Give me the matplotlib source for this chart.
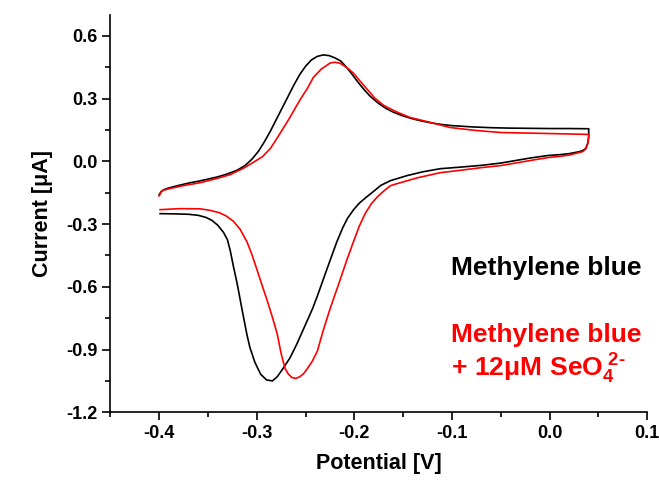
import matplotlib
matplotlib.use("Agg")
import matplotlib.pyplot as plt
from matplotlib.ticker import MultipleLocator, FormatStrFormatter

plt.rcParams['font.family'] = ['Liberation Sans', 'DejaVu Sans']
plt.rcParams['font.weight'] = 'bold'
plt.rcParams['mathtext.fontset'] = 'custom'
plt.rcParams['mathtext.rm'] = 'Liberation Sans:bold'
plt.rcParams['mathtext.bf'] = 'Liberation Sans:bold'
plt.rcParams['mathtext.it'] = 'Liberation Sans:bold'

# Methylene blue (black) CV loop: forward scan then reverse scan
mb_x = [-0.400, -0.398, -0.395, -0.390, -0.380, -0.370, -0.360, -0.350, -0.340, -0.330,
        -0.320, -0.312, -0.305, -0.298, -0.292, -0.286, -0.280, -0.274, -0.268, -0.262,
        -0.256, -0.250, -0.244, -0.238, -0.232, -0.226, -0.220, -0.214, -0.208, -0.202,
        -0.196, -0.190, -0.184, -0.176, -0.168, -0.160, -0.150, -0.140, -0.130, -0.120,
        -0.110, -0.100, -0.080, -0.060, -0.040, -0.020, 0.000, 0.020, 0.040,
        0.040, 0.039, 0.037, 0.034, 0.030, 0.020, 0.010, -0.002, -0.020, -0.050,
        -0.070, -0.090, -0.112, -0.130, -0.146, -0.163, -0.173, -0.181, -0.188, -0.195,
        -0.201, -0.207, -0.212, -0.218, -0.225, -0.232, -0.238, -0.243, -0.251, -0.259,
        -0.266, -0.273, -0.279, -0.284, -0.290, -0.296, -0.302, -0.307, -0.310, -0.315,
        -0.320, -0.324, -0.327, -0.330, -0.334, -0.340, -0.346, -0.352, -0.360, -0.370,
        -0.385, -0.399]
mb_y = [-0.160, -0.145, -0.135, -0.127, -0.115, -0.104, -0.095, -0.085, -0.074, -0.060,
        -0.042, -0.020, 0.010, 0.050, 0.095, 0.145, 0.200, 0.255, 0.310, 0.365,
        0.415, 0.455, 0.485, 0.502, 0.509, 0.506, 0.495, 0.480, 0.450, 0.414,
        0.377, 0.343, 0.312, 0.280, 0.254, 0.235, 0.217, 0.203, 0.192, 0.183,
        0.176, 0.171, 0.165, 0.161, 0.159, 0.158, 0.157, 0.157, 0.156,
        0.120, 0.086, 0.062, 0.052, 0.046, 0.037, 0.032, 0.028, 0.016, -0.008,
        -0.019, -0.027, -0.035, -0.050, -0.068, -0.092, -0.115, -0.146, -0.172, -0.200,
        -0.232, -0.272, -0.318, -0.385, -0.475, -0.566, -0.645, -0.706, -0.790, -0.874,
        -0.940, -0.990, -1.030, -1.050, -1.045, -1.018, -0.960, -0.890, -0.830, -0.710,
        -0.586, -0.500, -0.430, -0.375, -0.340, -0.305, -0.282, -0.268, -0.258, -0.253,
        -0.251, -0.250]

# Methylene blue + 12 uM SeO4 2- (red) CV loop
se_x = [-0.400, -0.397, -0.389, -0.375, -0.358, -0.341, -0.327, -0.314, -0.304, -0.294,
        -0.286, -0.280, -0.274, -0.268, -0.262, -0.256, -0.248, -0.242, -0.234, -0.225,
        -0.220, -0.215, -0.207, -0.201, -0.194, -0.186, -0.179, -0.170, -0.158, -0.143,
        -0.122, -0.102, -0.076, -0.050, -0.009, 0.040,
        0.040, 0.039, 0.037, 0.034, 0.020, 0.010, -0.002, -0.020, -0.050, -0.070,
        -0.094, -0.112, -0.135, -0.150, -0.163, -0.170, -0.177, -0.183, -0.189, -0.195,
        -0.201, -0.208, -0.215, -0.225, -0.232, -0.238, -0.243, -0.248, -0.252, -0.256,
        -0.260, -0.264, -0.268, -0.271, -0.275, -0.279, -0.284, -0.289, -0.294, -0.300,
        -0.305, -0.310, -0.317, -0.324, -0.331, -0.338, -0.348, -0.358, -0.379, -0.399]
se_y = [-0.165, -0.140, -0.130, -0.116, -0.102, -0.082, -0.063, -0.034, -0.006, 0.023,
        0.062, 0.105, 0.150, 0.195, 0.243, 0.292, 0.350, 0.402, 0.441, 0.470,
        0.474, 0.470, 0.446, 0.422, 0.383, 0.340, 0.302, 0.268, 0.239, 0.210,
        0.186, 0.162, 0.148, 0.138, 0.134, 0.129,
        0.110, 0.086, 0.060, 0.047, 0.030, 0.024, 0.018, 0.004, -0.020, -0.030,
        -0.044, -0.054, -0.078, -0.098, -0.116, -0.142, -0.172, -0.205, -0.250, -0.310,
        -0.385, -0.475, -0.572, -0.706, -0.810, -0.908, -0.955, -0.990, -1.015, -1.030,
        -1.038, -1.034, -1.015, -0.990, -0.920, -0.826, -0.745, -0.670, -0.600, -0.515,
        -0.445, -0.385, -0.325, -0.286, -0.262, -0.246, -0.234, -0.227, -0.226, -0.231]

W, H = 659, 483
fig = plt.figure(figsize=(W / 100, H / 100), dpi=100)
ax = fig.add_axes([110.3 / W, 1 - 412.3 / H, (647.3 - 110.3) / W, (412.3 - 15) / H])

ax.plot(mb_x, mb_y, color='black', lw=1.2, solid_joinstyle='round')
ax.plot(se_x, se_y, color='#ff0000', lw=1.2, solid_joinstyle='round')

ax.set_xticks([-0.4, -0.3, -0.2, -0.1, 0.0, 0.1])
ax.xaxis.set_minor_locator(MultipleLocator(0.05))
ax.yaxis.set_major_locator(MultipleLocator(0.3))
ax.yaxis.set_minor_locator(MultipleLocator(0.15))
ax.xaxis.set_major_formatter(FormatStrFormatter('%.1f'))
ax.yaxis.set_major_formatter(FormatStrFormatter('%.1f'))
ax.set_xlim(-0.45, 0.1)
ax.set_ylim(-1.2, 0.7)

for s in ['top', 'right']:
    ax.spines[s].set_visible(False)
for s in ['left', 'bottom']:
    ax.spines[s].set_linewidth(1.2)
ax.tick_params(which='major', direction='out', length=6, width=1.2, labelsize=13, pad=3)
ax.tick_params(which='minor', direction='out', length=3.5, width=1.2)
for lab in ax.get_xticklabels() + ax.get_yticklabels():
    lab.set_fontweight('bold')

ax.set_xlabel('Potential [V]', fontsize=15.5, fontweight='bold', labelpad=8)
ax.set_ylabel('Current [μA]', fontsize=15.5, fontweight='bold', labelpad=10)

fig.text(451 / W, 1 - 275 / H, 'Methylene blue', color='black', fontsize=19,
         fontweight='bold', ha='left', va='baseline')
fig.text(451 / W, 1 - 342 / H, 'Methylene blue', color='#ff0000', fontsize=19,
         fontweight='bold', ha='left', va='baseline')
fig.text(451 / W, 1 - 377 / H, r'$\mathrm{+\ 12μM\ SeO}_{4}^{\ 2\text{-}}$', color='#ff0000',
         fontsize=19, fontweight='bold', ha='left', va='baseline')

fig.savefig('out.png', dpi=100)
